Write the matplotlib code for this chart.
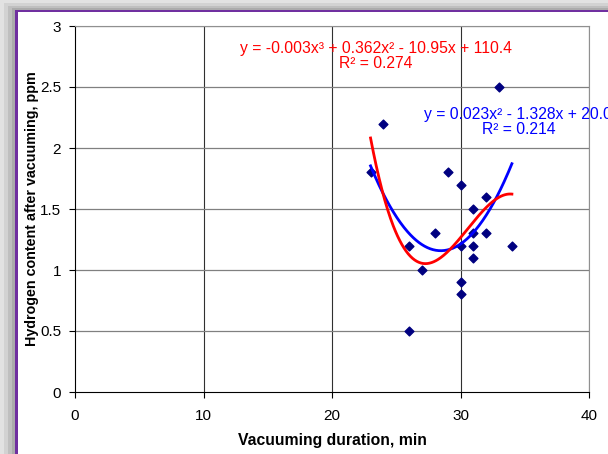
import matplotlib
matplotlib.use("Agg")
import matplotlib.pyplot as plt
import numpy as np
from matplotlib.patches import Rectangle

plt.rcParams["font.family"] = ["Liberation Sans", "DejaVu Sans"]

# data
duration = [23, 24, 26, 26, 27, 28, 29, 30, 30, 30, 30, 31, 31, 31, 31, 32, 32, 33, 34]
hydrogen = [1.8, 2.2, 1.2, 0.5, 1.0, 1.3, 1.8, 1.7, 1.2, 0.9, 0.8, 1.5, 1.3, 1.2, 1.1, 1.6, 1.3, 2.5, 1.2]

x_ticks = [0, 10, 20, 30, 40]
y_ticks = [0, 0.5, 1, 1.5, 2, 2.5, 3]
y_tick_labels = ["0", "0.5", "1", "1.5", "2", "2.5", "3"]

eq_cubic = "y = -0.003x³ + 0.362x² - 10.95x + 110.4\nR² = 0.274"
eq_quad = "y = 0.023x² - 1.328x + 20.0\nR² = 0.214"

W, H = 608, 454
fig = plt.figure(figsize=(W / 100, H / 100), dpi=100, facecolor="#e2e2e2")


def frac(px, py):
    return px / W, 1 - py / H


# shadow bands, purple frame, white chart area
for (px, py), col in [((4, 3), "#d2d2d2"), ((8, 6), "#bfbfbf"), ((12, 8), "#ababab"),
                      ((15, 10), "#7030a0"), ((18, 12), "white")]:
    x0, y1 = frac(px, py)
    fig.patches.append(Rectangle((x0, 0), 1.1 - x0, y1, transform=fig.transFigure,
                                 facecolor=col, edgecolor="none", zorder=-10))

ax = fig.add_axes([75 / W, 1 - 392 / H, 514 / W, 366 / H])
ax.set_facecolor("none")

ax.scatter(duration, hydrogen, marker="D", s=20, color="#000080", zorder=3)

# polynomial trendlines fitted to the data, as in the spreadsheet
xs = np.linspace(min(duration), max(duration), 200)
quad = np.polyfit(duration, hydrogen, 2)
cubic = np.polyfit(duration, hydrogen, 3)
ax.plot(xs, np.polyval(quad, xs), color="#0000ff", lw=2.0, zorder=4)
ax.plot(xs, np.polyval(cubic, xs), color="#ff0000", lw=2.0, zorder=5)

ax.text(23.4, 2.75, eq_cubic, color="#ff0000", fontsize=11.3, ha="center", va="center",
        multialignment="center", linespacing=1.0)
ax.text(34.5, 2.21, eq_quad, color="#0000ff", fontsize=11.3, ha="center", va="center",
        multialignment="center", linespacing=1.0, clip_on=False)

ax.set_xlim(0, 40)
ax.set_ylim(0, 3)
ax.set_xticks(x_ticks)
ax.set_yticks(y_ticks)
ax.set_yticklabels(y_tick_labels)
ax.tick_params(direction="out", length=4, width=0.8, labelsize=11, pad=6)
ax.tick_params(axis="x", pad=8)

for x in x_ticks[1:]:
    ax.axvline(x, color="#303030", lw=0.8, zorder=1)
for y in y_ticks[1:]:
    ax.axhline(y, color="#808080", lw=0.9, zorder=1)

ax.spines["top"].set_color("#909090")
ax.spines["right"].set_color("#909090")
ax.spines["left"].set_color("black")
ax.spines["bottom"].set_color("black")

ax.set_xlabel("Vacuuming duration, min", fontsize=11.3, fontweight="bold")
ax.set_ylabel("Hydrogen content after vacuuming, ppm", fontsize=10.3, fontweight="bold")
ax.xaxis.set_label_coords(0.5, -0.113)
ax.yaxis.set_label_coords(-0.07, 0.5)

fig.savefig("out.png", dpi=100, facecolor=fig.get_facecolor())
